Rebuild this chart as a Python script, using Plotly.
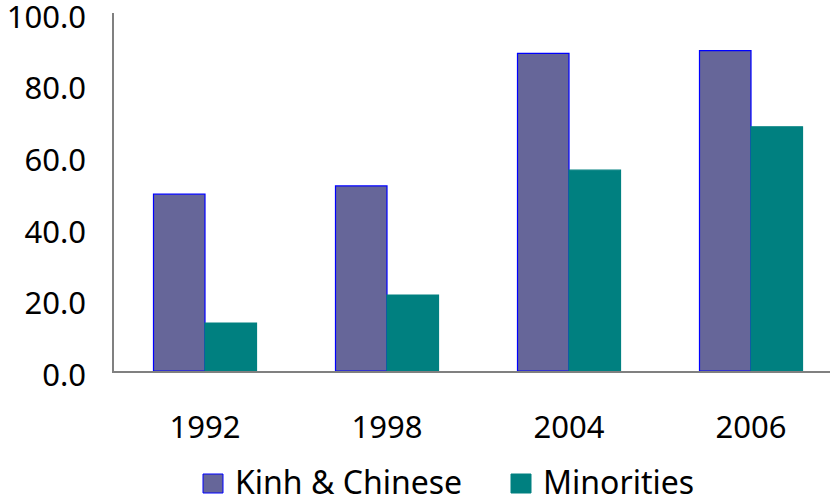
import plotly.graph_objects as go

# Survey years and shares (%) for the two population groups
years = ["1992", "1998", "2004", "2006"]
kinh_chinese = [49.4, 51.7, 88.7, 89.5]
minorities = [13.4, 21.2, 56.1, 68.2]

series_names = ["Kinh & Chinese", "Minorities"]
fill_colors = ["#666699", "#008080"]
line_colors = ["#0000FF", "#008080"]
y_ticks = [0, 20, 40, 60, 80, 100]

FONT = "Noto Sans"
FS = 31

# Plot area spans x 114..830, y 13..371 px
L, R, T, B = 114, 830, 13, 371
plot_w, plot_h = R - L, B - T
cat_px = 182


def px_x(px):
    return (px - L) / plot_w


def px_y(py):
    return (B - py) / plot_h


fig = go.Figure()
for name, vals, fc, lc in zip(series_names, [kinh_chinese, minorities], fill_colors, line_colors):
    fig.add_trace(go.Bar(
        x=years, y=vals, name=name,
        marker=dict(color=fc, line=dict(color=lc, width=1.2)),
        showlegend=False,
    ))

# Legend drawn as square swatches plus labels under the plot
legend_x = [203, 511]
for i, (name, fc, lc) in enumerate(zip(series_names, fill_colors, line_colors)):
    fig.add_shape(type="rect", xref="paper", yref="paper",
                  x0=px_x(legend_x[i]), x1=px_x(legend_x[i] + 20),
                  y0=px_y(474), y1=px_y(493),
                  fillcolor=fc, line=dict(color=lc, width=1))
    fig.add_annotation(xref="paper", yref="paper",
                       x=px_x(legend_x[i] + 31), y=px_y(481),
                       xanchor="left", yanchor="middle", showarrow=False,
                       borderpad=0,
                       text=name, font=dict(family=FONT, size=32, color="#000000"))

fig.update_layout(
    width=830, height=501,
    margin=dict(l=L, r=830 - R, t=T, b=501 - B, autoexpand=False),
    paper_bgcolor="white", plot_bgcolor="white",
    barmode="group", bargap=0.434, bargroupgap=0,
    font=dict(family=FONT, size=FS, color="#000000"),
    xaxis=dict(
        range=[-0.5, -0.5 + plot_w / cat_px],
        showline=True, linecolor="#808080", linewidth=1.5,
        ticks="", showgrid=False, zeroline=False,
        tickfont=dict(family=FONT, size=FS),
        ticklabelstandoff=28,
        automargin=False,
    ),
    yaxis=dict(
        range=[0, 100],
        tickvals=y_ticks,
        ticktext=[f"{v:.1f}" for v in y_ticks],
        showline=True, linecolor="#808080", linewidth=1.5,
        ticks="", showgrid=False, zeroline=False,
        tickfont=dict(family=FONT, size=FS),
        ticklabelstandoff=20,
        ticklabeloverflow="allow",
        ticklabelshift=4,
        automargin=False,
    ),
)

fig.write_html("out.html")
